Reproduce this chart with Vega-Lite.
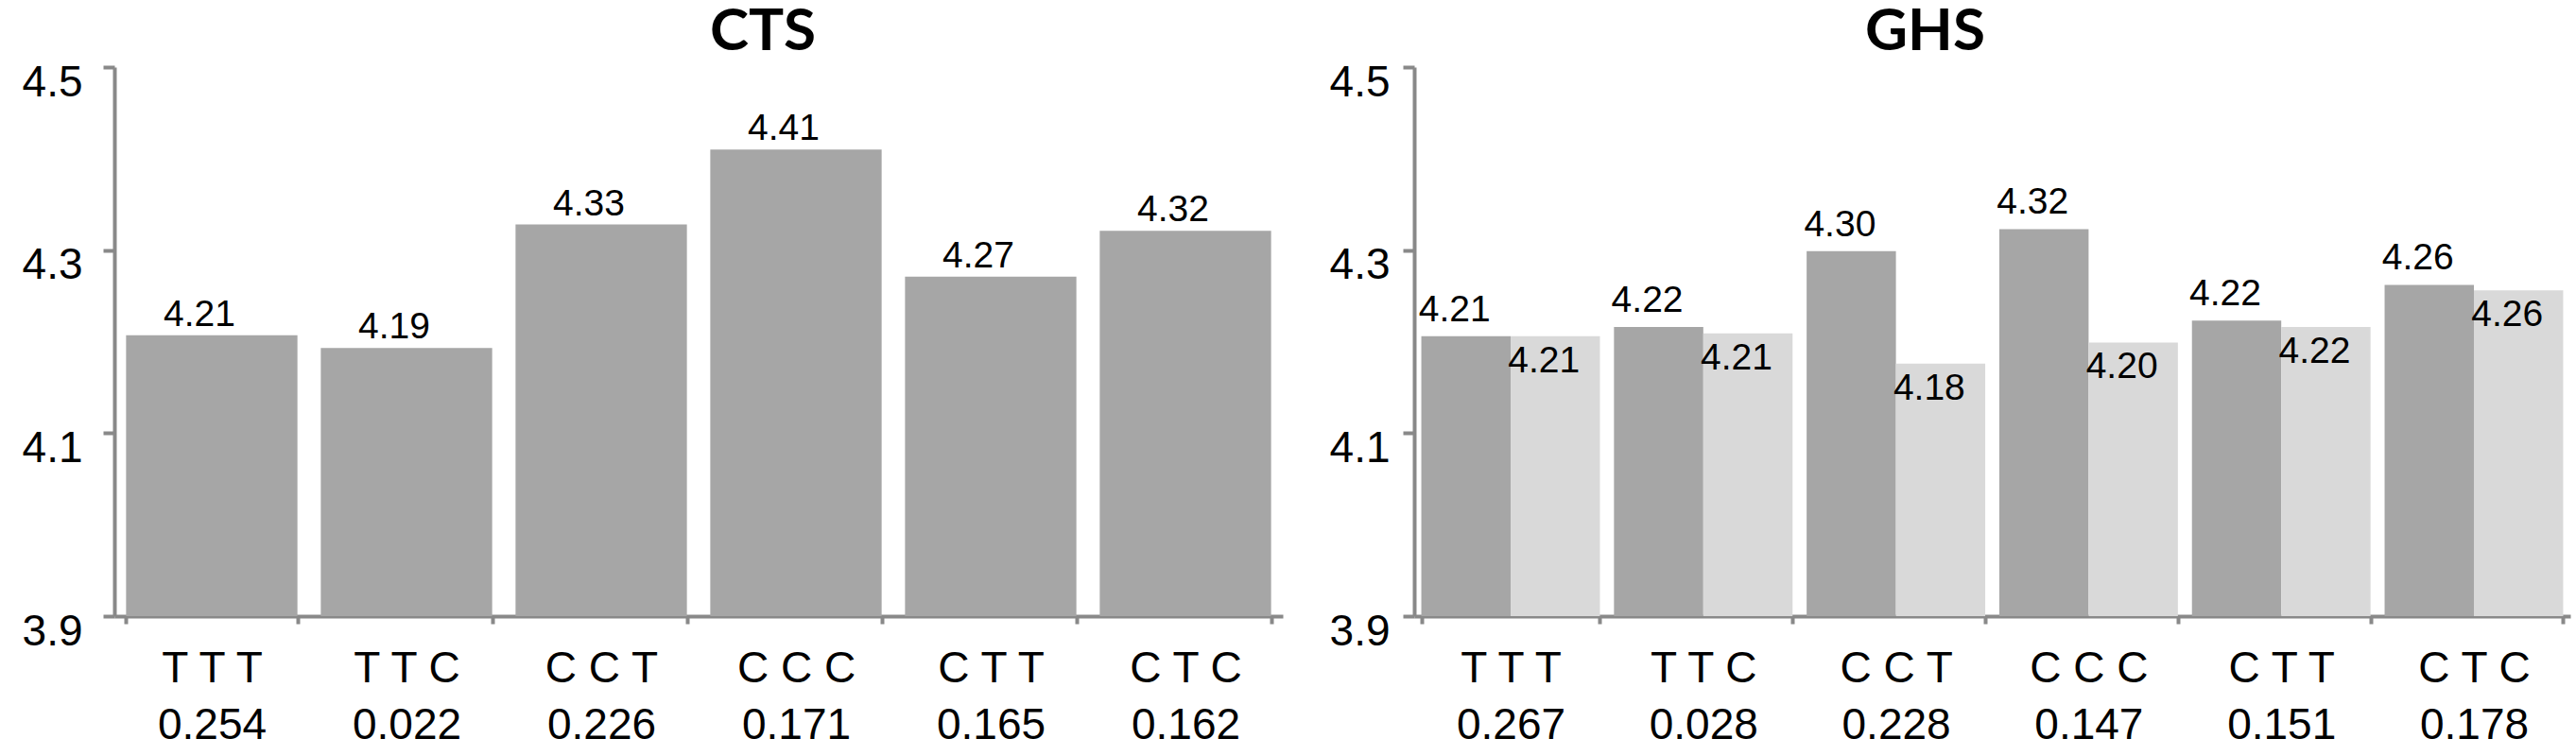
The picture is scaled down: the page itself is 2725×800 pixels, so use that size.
{
  "$schema": "https://vega.github.io/schema/vega-lite/v6.json",
  "background": "white",
  "padding": {"left": 23, "top": 3, "right": 5, "bottom": 0},
  "spacing": 49,
  "datasets": {
    "cts": [
      {"genotype": "T T T", "freq": "0.254", "label": "T T T|0.254", "score": 4.207},
      {"genotype": "T T C", "freq": "0.022", "label": "T T C|0.022", "score": 4.193},
      {"genotype": "C C T", "freq": "0.226", "label": "C C T|0.226", "score": 4.328},
      {"genotype": "C C C", "freq": "0.171", "label": "C C C|0.171", "score": 4.41},
      {"genotype": "C T T", "freq": "0.165", "label": "C T T|0.165", "score": 4.271},
      {"genotype": "C T C", "freq": "0.162", "label": "C T C|0.162", "score": 4.321}
    ],
    "ghs": [
      {"genotype": "T T T", "label": "T T T|0.267", "group": "1", "score": 4.206},
      {"genotype": "T T T", "label": "T T T|0.267", "group": "2", "score": 4.206},
      {"genotype": "T T C", "label": "T T C|0.028", "group": "1", "score": 4.216},
      {"genotype": "T T C", "label": "T T C|0.028", "group": "2", "score": 4.209},
      {"genotype": "C C T", "label": "C C T|0.228", "group": "1", "score": 4.299},
      {"genotype": "C C T", "label": "C C T|0.228", "group": "2", "score": 4.176},
      {"genotype": "C C C", "label": "C C C|0.147", "group": "1", "score": 4.323},
      {"genotype": "C C C", "label": "C C C|0.147", "group": "2", "score": 4.199},
      {"genotype": "C T T", "label": "C T T|0.151", "group": "1", "score": 4.223},
      {"genotype": "C T T", "label": "C T T|0.151", "group": "2", "score": 4.216},
      {"genotype": "C T C", "label": "C T C|0.178", "group": "1", "score": 4.262},
      {"genotype": "C T C", "label": "C T C|0.178", "group": "2", "score": 4.256}
    ]
  },
  "hconcat": [
    {
      "width": 1236,
      "height": 581,
      "title": {"text": "CTS", "frame": "group", "anchor": "middle", "dx": 68, "baseline": "bottom", "offset": -64},
      "data": {"name": "cts"},
      "encoding": {
        "x": {
          "field": "label", "type": "nominal", "sort": null, "title": null,
          "scale": {"paddingInner": 0.12, "paddingOuter": 0.06},
          "axis": {"labelExpr": "split(datum.label, '|')", "labelAngle": 0, "tickBand": "extent", "labelPadding": 25}
        },
        "y": {
          "field": "score", "type": "quantitative", "title": null,
          "scale": {"domain": [3.9, 4.5], "zero": false, "nice": false},
          "axis": {"values": [3.9, 4.1, 4.3, 4.5], "format": ".1f", "labelPadding": 22}
        }
      },
      "layer": [
        {"mark": {"type": "bar", "color": "#a6a6a6"}, "encoding": {"y2": {"datum": 3.9}}},
        {
          "mark": {"type": "text", "baseline": "alphabetic", "dy": -10, "dx": -13, "font": "Liberation Sans", "fontSize": 39, "color": "black"},
          "encoding": {"text": {"field": "score", "type": "quantitative", "format": ".2f"}}
        }
      ]
    },
    {
      "width": 1223,
      "height": 581,
      "title": {"text": "GHS", "frame": "group", "anchor": "middle", "dx": -71, "baseline": "bottom", "offset": -64},
      "data": {"name": "ghs"},
      "encoding": {
        "x": {
          "field": "label", "type": "nominal", "sort": null, "title": null,
          "scale": {"paddingInner": 0.073, "paddingOuter": 0.037},
          "axis": {"labelExpr": "split(datum.label, '|')", "labelAngle": 0, "tickBand": "extent", "labelPadding": 25}
        },
        "xOffset": {"field": "group", "type": "nominal", "sort": null},
        "y": {
          "field": "score", "type": "quantitative", "title": null,
          "scale": {"domain": [3.9, 4.5], "zero": false, "nice": false},
          "axis": {"values": [3.9, 4.1, 4.3, 4.5], "format": ".1f", "labelPadding": 14}
        }
      },
      "layer": [
        {
          "mark": {"type": "bar"},
          "encoding": {
            "y2": {"datum": 3.9},
            "color": {"field": "group", "type": "nominal", "scale": {"domain": ["1", "2"], "range": ["#a6a6a6", "#d9d9d9"]}, "legend": null}
          }
        },
        {
          "transform": [{"filter": "datum.group == '1'"}],
          "mark": {"type": "text", "baseline": "alphabetic", "dy": -16, "dx": -12, "font": "Liberation Sans", "fontSize": 39, "color": "black"},
          "encoding": {"text": {"field": "score", "type": "quantitative", "format": ".2f"}}
        },
        {
          "transform": [{"filter": "datum.group == '2'"}],
          "mark": {"type": "text", "baseline": "alphabetic", "dy": 38, "dx": -12, "font": "Liberation Sans", "fontSize": 39, "color": "black"},
          "encoding": {"text": {"field": "score", "type": "quantitative", "format": ".2f"}}
        }
      ]
    }
  ],
  "config": {
    "view": {"stroke": null},
    "title": {"font": "Lato", "fontSize": 62, "fontWeight": "bold", "color": "black"},
    "axis": {
      "grid": false,
      "domainColor": "#898989",
      "domainWidth": 4,
      "tickColor": "#898989",
      "tickWidth": 4,
      "labelFont": "Liberation Sans",
      "labelFontSize": 46,
      "labelColor": "black",
      "labelOverlap": false,
      "labelBound": false
    },
    "axisX": {"tickSize": 8, "labelLineHeight": 60, "labelBaseline": "top"},
    "axisY": {"tickSize": 12, "labelBaseline": "alphabetic", "labelOffset": 30}
  }
}
